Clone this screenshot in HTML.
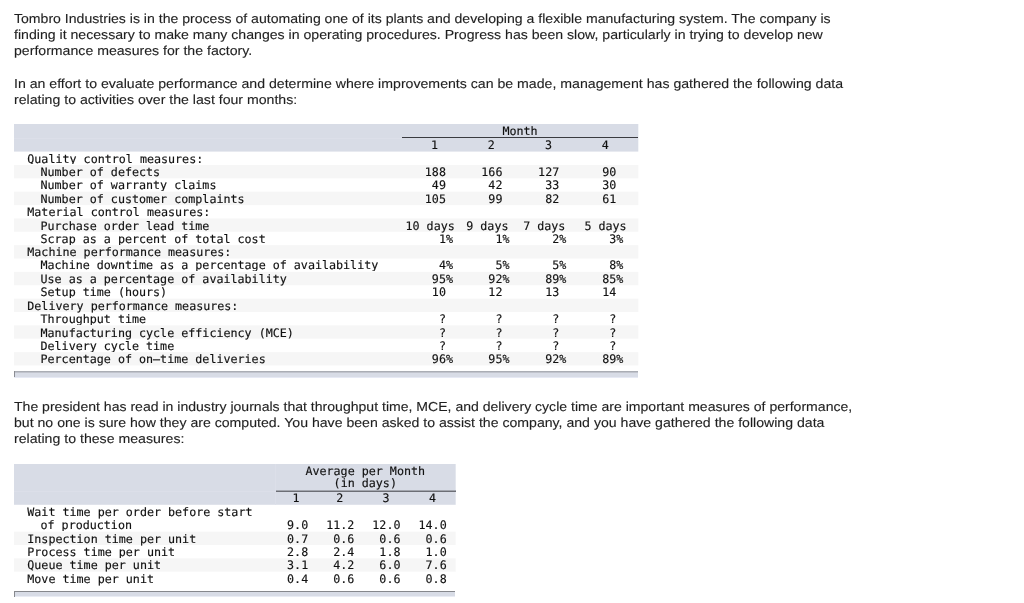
<!DOCTYPE html>
<html lang="en">
<head>
<meta charset="utf-8">
<title>Tombro Industries</title>
<style>
html,body{margin:0;padding:0;background:#fff;}
body{width:1024px;height:603px;position:relative;overflow:hidden;font-family:"Liberation Sans",Arial,sans-serif;color:#1f1f1f;}
.p{position:absolute;left:14px;white-space:nowrap;font-size:13.0px;line-height:16.0px;height:16.0px;margin:0;transform-origin:0 0;text-rendering:geometricPrecision;-webkit-text-stroke:0.12px #1f1f1f;}
.m{font-family:"DejaVu Sans Mono","Liberation Mono",monospace;font-size:11.7px;line-height:14px;color:#111;-webkit-text-stroke:0.15px #111;text-rendering:geometricPrecision;}
.b{position:absolute;}
.t{position:absolute;white-space:pre;height:14px;}
</style>
</head>
<body>
<div class="p" style="top:10.50px;transform:scaleX(1.0828)">Tombro Industries is in the process of automating one of its plants and developing a flexible manufacturing system. The company is</div>
<div class="p" style="top:26.50px;transform:scaleX(1.0856)">finding it necessary to make many changes in operating procedures. Progress has been slow, particularly in trying to develop new</div>
<div class="p" style="top:42.50px;transform:scaleX(1.0856)">performance measures for the factory.</div>
<div class="p" style="top:75.50px;transform:scaleX(1.0867)">In an effort to evaluate performance and determine where improvements can be made, management has gathered the following data</div>
<div class="p" style="top:91.50px;transform:scaleX(1.0856)">relating to activities over the last four months:</div>
<div class="p" style="top:398.50px;transform:scaleX(1.0811)">The president has read in industry journals that throughput time, MCE, and delivery cycle time are important measures of performance,</div>
<div class="p" style="top:414.50px;transform:scaleX(1.0848)">but no one is sure how they are computed. You have been asked to assist the company, and you have gathered the following data</div>
<div class="p" style="top:430.50px;transform:scaleX(1.0866)">relating to these measures:</div>
<div class="m" id="t1">
<div class="b" style="left:14px;top:124px;width:624px;height:27px;background:#d8dce6"></div><div class="b" style="left:638px;top:124px;width:1px;height:27px;background:#f3f5f8"></div><div class="b" style="left:14px;top:151px;width:624px;height:1px;background:#e8eaf0"></div><div class="b" style="left:638px;top:151px;width:1px;height:1px;background:#f8f9fb"></div>
<div class="b" style="left:14.00px;top:138.00px;width:388.00px;height:1.00px;background:#dcdfe9"></div>
<div class="b" style="left:402.00px;top:137.00px;width:236.30px;height:1.00px;background:#3a3b40"></div>
<span class="t" style="left:502.39px;top:124px">Month</span><span class="t" style="left:430.88px;top:138px">1</span><span class="t" style="left:487.78px;top:138px">2</span><span class="t" style="left:544.98px;top:138px">3</span><span class="t" style="left:601.78px;top:138px">4</span>
<span class="t" style="left:27.30px;top:152px">Quality control measures:</span>
<div class="b" style="left:14px;top:164px;width:624px;height:1px;background:#ffffff"></div><div class="b" style="left:638px;top:164px;width:1px;height:1px;background:#ffffff"></div><div class="b" style="left:14px;top:165px;width:624px;height:13px;background:#f6f6f6"></div><div class="b" style="left:638px;top:165px;width:1px;height:13px;background:#fcfcfc"></div><div class="b" style="left:14px;top:178px;width:624px;height:1px;background:#fcfcfc"></div><div class="b" style="left:638px;top:178px;width:1px;height:1px;background:#fefefe"></div>
<span class="t" style="left:40.50px;top:165px">Number of defects</span><span class="t" style="left:424.82px;top:165px">188 </span><span class="t" style="left:481.32px;top:165px">166 </span><span class="t" style="left:538.12px;top:165px">127 </span><span class="t" style="left:602.17px;top:165px">90 </span>
<span class="t" style="left:40.50px;top:178px">Number of warranty claims</span><span class="t" style="left:431.87px;top:178px">49 </span><span class="t" style="left:488.37px;top:178px">42 </span><span class="t" style="left:545.17px;top:178px">33 </span><span class="t" style="left:602.17px;top:178px">30 </span>
<div class="b" style="left:14px;top:191px;width:624px;height:1px;background:#fcfcfc"></div><div class="b" style="left:638px;top:191px;width:1px;height:1px;background:#fefefe"></div><div class="b" style="left:14px;top:192px;width:624px;height:13px;background:#f6f6f6"></div><div class="b" style="left:638px;top:192px;width:1px;height:13px;background:#fcfcfc"></div><div class="b" style="left:14px;top:205px;width:624px;height:1px;background:#fefefe"></div><div class="b" style="left:638px;top:205px;width:1px;height:1px;background:#ffffff"></div>
<span class="t" style="left:40.50px;top:192px">Number of customer complaints</span><span class="t" style="left:424.82px;top:192px">105 </span><span class="t" style="left:488.37px;top:192px">99 </span><span class="t" style="left:545.17px;top:192px">82 </span><span class="t" style="left:602.17px;top:192px">61 </span>
<span class="t" style="left:27.30px;top:205px">Material control measures:</span>
<div class="b" style="left:14px;top:218px;width:624px;height:1px;background:#fafafa"></div><div class="b" style="left:638px;top:218px;width:1px;height:1px;background:#fdfdfd"></div><div class="b" style="left:14px;top:219px;width:624px;height:12px;background:#f6f6f6"></div><div class="b" style="left:638px;top:219px;width:1px;height:12px;background:#fcfcfc"></div><div class="b" style="left:14px;top:231px;width:624px;height:1px;background:#f8f8f8"></div><div class="b" style="left:638px;top:231px;width:1px;height:1px;background:#fdfdfd"></div>
<span class="t" style="left:40.50px;top:219px">Purchase order lead time</span><span class="t" style="left:405.49px;top:219px">10 days</span><span class="t" style="left:466.24px;top:219px">9 days</span><span class="t" style="left:523.14px;top:219px">7 days</span><span class="t" style="left:584.44px;top:219px">5 days</span>
<span class="t" style="left:40.50px;top:232px">Scrap as a percent of total cost</span><span class="t" style="left:438.91px;top:232px">1%</span><span class="t" style="left:495.41px;top:232px">1%</span><span class="t" style="left:552.21px;top:232px">2%</span><span class="t" style="left:609.21px;top:232px">3%</span>
<div class="b" style="left:14px;top:245px;width:624px;height:1px;background:#f7f7f7"></div><div class="b" style="left:638px;top:245px;width:1px;height:1px;background:#fdfdfd"></div><div class="b" style="left:14px;top:246px;width:624px;height:12px;background:#f6f6f6"></div><div class="b" style="left:638px;top:246px;width:1px;height:12px;background:#fcfcfc"></div><div class="b" style="left:14px;top:258px;width:624px;height:1px;background:#fafafa"></div><div class="b" style="left:638px;top:258px;width:1px;height:1px;background:#fefefe"></div>
<span class="t" style="left:27.30px;top:245px">Machine performance measures:</span>
<span class="t" style="left:40.50px;top:258px">Machine downtime as a percentage of availability</span><span class="t" style="left:438.91px;top:258px">4%</span><span class="t" style="left:495.41px;top:258px">5%</span><span class="t" style="left:552.21px;top:258px">5%</span><span class="t" style="left:609.21px;top:258px">8%</span>
<div class="b" style="left:14px;top:271px;width:624px;height:1px;background:#fefefe"></div><div class="b" style="left:638px;top:271px;width:1px;height:1px;background:#ffffff"></div><div class="b" style="left:14px;top:272px;width:624px;height:13px;background:#f6f6f6"></div><div class="b" style="left:638px;top:272px;width:1px;height:13px;background:#fcfcfc"></div><div class="b" style="left:14px;top:285px;width:624px;height:1px;background:#fdfdfd"></div><div class="b" style="left:638px;top:285px;width:1px;height:1px;background:#fefefe"></div>
<span class="t" style="left:40.50px;top:272px">Use as a percentage of availability</span><span class="t" style="left:431.87px;top:272px">95%</span><span class="t" style="left:488.37px;top:272px">92%</span><span class="t" style="left:545.17px;top:272px">89%</span><span class="t" style="left:602.17px;top:272px">85%</span>
<span class="t" style="left:40.50px;top:285px">Setup time (hours)</span><span class="t" style="left:431.87px;top:285px">10 </span><span class="t" style="left:488.37px;top:285px">12 </span><span class="t" style="left:545.17px;top:285px">13 </span><span class="t" style="left:602.17px;top:285px">14 </span>
<div class="b" style="left:14px;top:298px;width:624px;height:1px;background:#fcfcfc"></div><div class="b" style="left:638px;top:298px;width:1px;height:1px;background:#fefefe"></div><div class="b" style="left:14px;top:299px;width:624px;height:13px;background:#f6f6f6"></div><div class="b" style="left:638px;top:299px;width:1px;height:13px;background:#fcfcfc"></div>
<span class="t" style="left:27.30px;top:299px">Delivery performance measures:</span>
<span class="t" style="left:40.50px;top:312px">Throughput time</span><span class="t" style="left:438.91px;top:312px">? </span><span class="t" style="left:495.41px;top:312px">? </span><span class="t" style="left:552.21px;top:312px">? </span><span class="t" style="left:609.21px;top:312px">? </span>
<div class="b" style="left:14px;top:325px;width:624px;height:1px;background:#f9f9f9"></div><div class="b" style="left:638px;top:325px;width:1px;height:1px;background:#fdfdfd"></div><div class="b" style="left:14px;top:326px;width:624px;height:12px;background:#f6f6f6"></div><div class="b" style="left:638px;top:326px;width:1px;height:12px;background:#fcfcfc"></div><div class="b" style="left:14px;top:338px;width:624px;height:1px;background:#f9f9f9"></div><div class="b" style="left:638px;top:338px;width:1px;height:1px;background:#fdfdfd"></div>
<span class="t" style="left:40.50px;top:326px">Manufacturing cycle efficiency (MCE)</span><span class="t" style="left:438.91px;top:326px">? </span><span class="t" style="left:495.41px;top:326px">? </span><span class="t" style="left:552.21px;top:326px">? </span><span class="t" style="left:609.21px;top:326px">? </span>
<span class="t" style="left:40.50px;top:339px">Delivery cycle time</span><span class="t" style="left:438.91px;top:339px">? </span><span class="t" style="left:495.41px;top:339px">? </span><span class="t" style="left:552.21px;top:339px">? </span><span class="t" style="left:609.21px;top:339px">? </span>
<div class="b" style="left:14px;top:352px;width:624px;height:1px;background:#f7f7f7"></div><div class="b" style="left:638px;top:352px;width:1px;height:1px;background:#fdfdfd"></div><div class="b" style="left:14px;top:353px;width:624px;height:12px;background:#f6f6f6"></div><div class="b" style="left:638px;top:353px;width:1px;height:12px;background:#fcfcfc"></div><div class="b" style="left:14px;top:365px;width:624px;height:1px;background:#fbfbfb"></div><div class="b" style="left:638px;top:365px;width:1px;height:1px;background:#fefefe"></div>
<span class="t" style="left:40.50px;top:352px">Percentage of on–time deliveries</span><span class="t" style="left:431.87px;top:352px">96%</span><span class="t" style="left:488.37px;top:352px">95%</span><span class="t" style="left:545.17px;top:352px">92%</span><span class="t" style="left:602.17px;top:352px">89%</span>
<div class="b" style="left:14.00px;top:371.00px;width:624.00px;height:1.00px;background:#aaadb4"></div>
<div class="b" style="left:14.00px;top:372.00px;width:624.00px;height:1.00px;background:#c0c3cc"></div>
<div class="b" style="left:14.00px;top:373.00px;width:624.00px;height:1.00px;background:#d8dce6"></div>
<div class="b" style="left:14.00px;top:374.00px;width:624.00px;height:1.00px;background:#d8dce6"></div>
<div class="b" style="left:14.00px;top:375.00px;width:624.00px;height:1.00px;background:#d8dce6"></div>
<div class="b" style="left:14.00px;top:376.00px;width:624.00px;height:1.00px;background:#d8dce6"></div>
<div class="b" style="left:14.00px;top:377.00px;width:624.00px;height:1.00px;background:#e6e9f4"></div>
<div class="b" style="left:14.00px;top:371.00px;width:1.00px;height:6.00px;background:#8a8c92"></div>
</div>
<div class="m" id="t2">
<div class="b" style="left:14px;top:464px;width:441px;height:40px;background:#d8dce6"></div><div class="b" style="left:455px;top:464px;width:1px;height:40px;background:#e4e7ee"></div><div class="b" style="left:14px;top:504px;width:441px;height:1px;background:#e0e3eb"></div><div class="b" style="left:455px;top:504px;width:1px;height:1px;background:#e9ebf1"></div>
<div class="b" style="left:14.00px;top:491.00px;width:261.00px;height:1.00px;background:#dcdfe9"></div>
<div class="b" style="left:275.00px;top:464.00px;width:1.00px;height:40.80px;background:#dcdfe9"></div>
<div class="b" style="left:276.00px;top:490.00px;width:179.70px;height:1.00px;background:#a3a6ae"></div>
<div class="b" style="left:276.00px;top:491.00px;width:179.70px;height:1.00px;background:#6c6e75"></div>
<span class="t" style="left:305.43px;top:464px">Average per Month</span><span class="t" style="left:333.60px;top:476px">(in days)</span><span class="t" style="left:292.58px;top:491px">1</span><span class="t" style="left:336.28px;top:491px">2</span><span class="t" style="left:382.48px;top:491px">3</span><span class="t" style="left:428.88px;top:491px">4</span>
<span class="t" style="left:27.30px;top:505px">Wait time per order before start</span>
<span class="t" style="left:40.50px;top:518px">of production</span><span class="t" style="left:287.07px;top:518px">9.0</span><span class="t" style="left:326.22px;top:518px">11.2</span><span class="t" style="left:372.32px;top:518px">12.0</span><span class="t" style="left:418.52px;top:518px">14.0</span>
<div class="b" style="left:14px;top:531px;width:441px;height:1px;background:#fcfcfc"></div><div class="b" style="left:455px;top:531px;width:1px;height:1px;background:#fdfdfd"></div><div class="b" style="left:14px;top:532px;width:441px;height:13px;background:#f6f6f6"></div><div class="b" style="left:455px;top:532px;width:1px;height:13px;background:#f9f9f9"></div>
<span class="t" style="left:27.30px;top:532px">Inspection time per unit</span><span class="t" style="left:287.07px;top:532px">0.7</span><span class="t" style="left:333.27px;top:532px">0.6</span><span class="t" style="left:379.37px;top:532px">0.6</span><span class="t" style="left:425.57px;top:532px">0.6</span>
<span class="t" style="left:27.30px;top:545px">Process time per unit</span><span class="t" style="left:287.07px;top:545px">2.8</span><span class="t" style="left:333.27px;top:545px">2.4</span><span class="t" style="left:379.37px;top:545px">1.8</span><span class="t" style="left:425.57px;top:545px">1.0</span>
<div class="b" style="left:14px;top:558px;width:441px;height:1px;background:#f9f9f9"></div><div class="b" style="left:455px;top:558px;width:1px;height:1px;background:#fbfbfb"></div><div class="b" style="left:14px;top:559px;width:441px;height:12px;background:#f6f6f6"></div><div class="b" style="left:455px;top:559px;width:1px;height:12px;background:#f9f9f9"></div><div class="b" style="left:14px;top:571px;width:441px;height:1px;background:#f9f9f9"></div><div class="b" style="left:455px;top:571px;width:1px;height:1px;background:#fafafa"></div>
<span class="t" style="left:27.30px;top:558px">Queue time per unit</span><span class="t" style="left:287.07px;top:558px">3.1</span><span class="t" style="left:333.27px;top:558px">4.2</span><span class="t" style="left:379.37px;top:558px">6.0</span><span class="t" style="left:425.57px;top:558px">7.6</span>
<span class="t" style="left:27.30px;top:572px">Move time per unit</span><span class="t" style="left:287.07px;top:572px">0.4</span><span class="t" style="left:333.27px;top:572px">0.6</span><span class="t" style="left:379.37px;top:572px">0.6</span><span class="t" style="left:425.57px;top:572px">0.8</span>
<div class="b" style="left:14.00px;top:591.00px;width:441.00px;height:1.00px;background:#86888d"></div>
<div class="b" style="left:14.00px;top:592.00px;width:441.00px;height:1.00px;background:#d8dce6"></div>
<div class="b" style="left:14.00px;top:593.00px;width:441.00px;height:1.00px;background:#d8dce6"></div>
<div class="b" style="left:14.00px;top:594.00px;width:441.00px;height:1.00px;background:#d8dce6"></div>
<div class="b" style="left:14.00px;top:595.00px;width:441.00px;height:1.00px;background:#d8dce6"></div>
<div class="b" style="left:14.00px;top:596.00px;width:441.00px;height:1.00px;background:#e9ecf4"></div>
<div class="b" style="left:14.00px;top:591.00px;width:1.00px;height:6.00px;background:#86888d"></div>
</div>
</body>
</html>
